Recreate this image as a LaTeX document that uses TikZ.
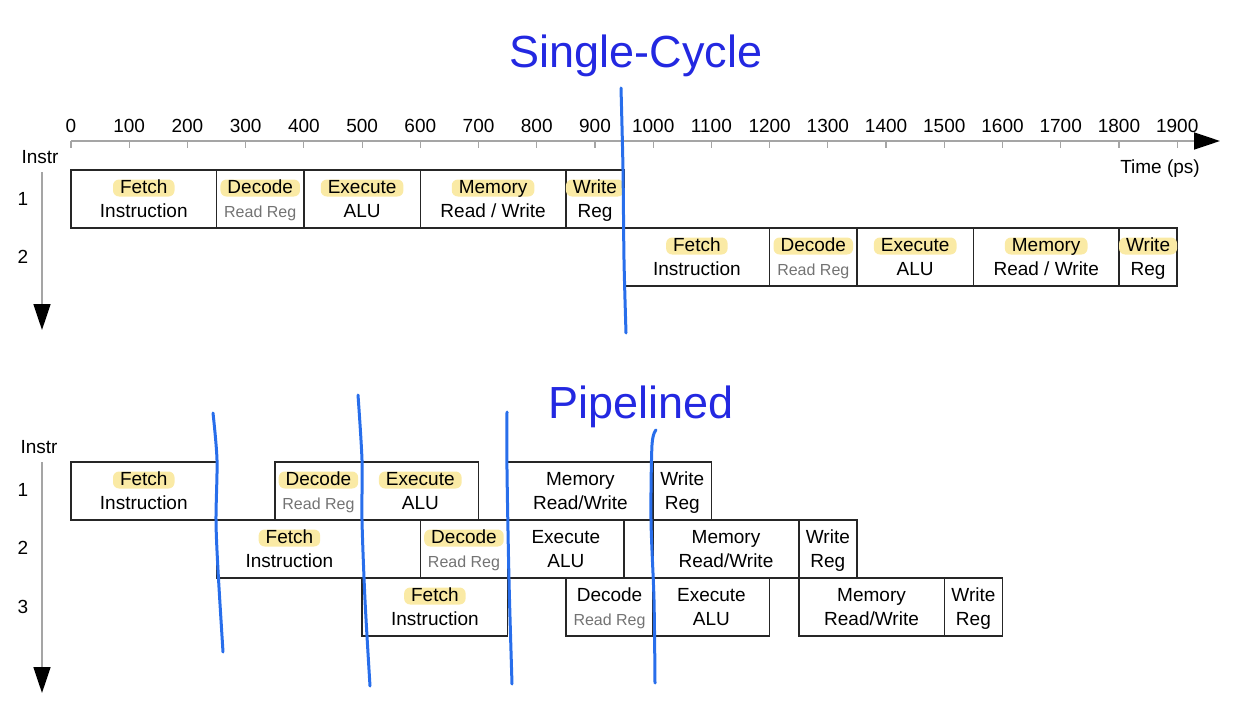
\documentclass[tikz,border=0pt]{standalone}
\usepackage{fontspec}
\setmainfont{Liberation Sans}
\usetikzlibrary{arrows.meta,positioning}

\definecolor{penblue}{RGB}{40,110,235}
\definecolor{titleblue}{RGB}{35,40,225}
\definecolor{marker}{RGB}{250,234,165}
\definecolor{axisgray}{RGB}{165,165,165}

\tikzset{
  stagebox/.style={draw=black!85, line width=1.6pt, rectangle,
    minimum height=58pt, inner sep=0pt, outer sep=0pt},
  word/.style={inner sep=0pt, font=\fontsize{19}{22}\selectfont},
  hl/.style={word, fill=marker, rounded corners=6pt, inner xsep=7pt,
    inner ysep=1pt, text height=13pt, text depth=2pt},
  axisline/.style={axisgray, line width=1.8pt},
  ticklabel/.style={font=\fontsize{19}{22}\selectfont, inner sep=0pt},
  title/.style={titleblue, font=\fontsize{45}{50}\selectfont, inner sep=0pt},
  pen/.style={penblue, line width=3pt, line cap=round, line join=round}
}

% time (ps) -> x position
\newcommand{\tx}[1]{71+(#1)*0.5822}
\newcommand{\readreg}{{\color{black!55}\fontsize{16}{18}\selectfont Read Reg}}
% [text shift], name, start ps, end ps, top y, first word, second line, style of first word
\newcommand{\stage}[8][0pt]{%
  \node[stagebox, anchor=north west, minimum width={((#4)-(#3))*0.5822pt}]
    (#2) at ({\tx{#3}},#5) {};
  \node[#8, anchor=base] (#2-a) at ([xshift=#1, yshift=-23.5pt]#2.north) {#6};
  \node[word, anchor=base] (#2-b) at ([xshift=#1, yshift=-47pt]#2.north) {#7};
}

\begin{document}
\begin{tikzpicture}[x=1pt, y=-1pt]
\useasboundingbox (0,0) rectangle (1242,706);

% ---- single-cycle ----
\node[title, anchor=base] (sctitle) at (636,68) {Single-Cycle};

% time axis
\coordinate (t0) at ({\tx{0}},141);
\coordinate (tend) at (1220,141);
\draw[axisline, -{Triangle[length=26pt,width=17pt,color=black]}] (t0) -- (tend);
\foreach \t in {0,100,...,1900}{
  \draw[axisline, line width=1.2pt] ({\tx{\t}},141) -- ++(0,7);
  \node[ticklabel] (tk\t) at ({\tx{\t}},126) {\t};
}
\node[ticklabel] (timelbl) at (1160,169) {Time (ps)};

% instruction axis
\node[ticklabel] (scinstr) at (40,157) {Instr};
\coordinate (sca0) at (42,172);
\coordinate (sca1) at (42,330);
\draw[axisline, -{Triangle[length=26pt,width=17pt,color=black]}] (sca0) -- (sca1);
\node[ticklabel] (scn1) at (23,199) {1};
\node[ticklabel] (scn2) at (23,257) {2};

\stage{sc1f}{0}{250}{170}{Fetch}{Instruction}{hl}
\stage{sc1d}{250}{400}{170}{Decode}{\readreg}{hl}
\stage{sc1e}{400}{600}{170}{Execute}{ALU}{hl}
\stage{sc1m}{600}{850}{170}{Memory}{Read / Write}{hl}
\stage{sc1w}{850}{950}{170}{Write}{Reg}{hl}

\stage{sc2f}{950}{1200}{228}{Fetch}{Instruction}{hl}
\stage{sc2d}{1200}{1350}{228}{Decode}{\readreg}{hl}
\stage{sc2e}{1350}{1550}{228}{Execute}{ALU}{hl}
\stage{sc2m}{1550}{1800}{228}{Memory}{Read / Write}{hl}
\stage{sc2w}{1800}{1900}{228}{Write}{Reg}{hl}

% pen mark
\draw[pen] plot[smooth] coordinates {(621,88) (623,170) (624,260) (626,333)};

% ---- pipelined ----
\node[title, anchor=base] (pltitle) at (641,418) {Pipelined};

\node[ticklabel] (plinstr) at (39,447) {Instr};
\coordinate (pla0) at (42,462);
\coordinate (pla1) at (42,693);
\draw[axisline, -{Triangle[length=26pt,width=17pt,color=black]}] (pla0) -- (pla1);
\node[ticklabel] (pln1) at (23,490) {1};
\node[ticklabel] (pln2) at (23,548) {2};
\node[ticklabel] (pln3) at (23,607) {3};

\stage{pl1f}{0}{250}{462}{Fetch}{Instruction}{hl}
\stage{pl1d}{350}{500}{462}{Decode}{\readreg}{hl}
\stage{pl1e}{500}{700}{462}{Execute}{ALU}{hl}
\stage{pl1m}{750}{1000}{462}{Memory}{Read/Write}{word}
\stage{pl1w}{1000}{1100}{462}{Write}{Reg}{word}

\stage[-29pt]{pl2f}{250}{600}{520}{Fetch}{Instruction}{hl}
\stage{pl2d}{600}{750}{520}{Decode}{\readreg}{hl}
\stage{pl2e}{750}{950}{520}{Execute}{ALU}{word}
\stage{pl2m}{1000}{1250}{520}{Memory}{Read/Write}{word}
\stage{pl2w}{1250}{1350}{520}{Write}{Reg}{word}

\stage{pl3f}{500}{750}{578}{Fetch}{Instruction}{hl}
\stage{pl3d}{850}{1000}{578}{Decode}{\readreg}{word}
\stage{pl3e}{1000}{1200}{578}{Execute}{ALU}{word}
\stage{pl3m}{1250}{1500}{578}{Memory}{Read/Write}{word}
\stage{pl3w}{1500}{1600}{578}{Write}{Reg}{word}

% pen marks
\draw[pen] plot[smooth] coordinates {(213,413) (217,460) (216,520) (218,570) (223,652)};
\draw[pen] plot[smooth] coordinates {(358,395) (362,460) (362,520) (365,600) (370,686)};
\draw[pen] plot[smooth] coordinates {(507,412) (507,470) (509,580) (512,684)};
\draw[pen] plot[smooth] coordinates {(656,430) (652,445) (651,520) (654,600) (655,683)};
\end{tikzpicture}
\end{document}
